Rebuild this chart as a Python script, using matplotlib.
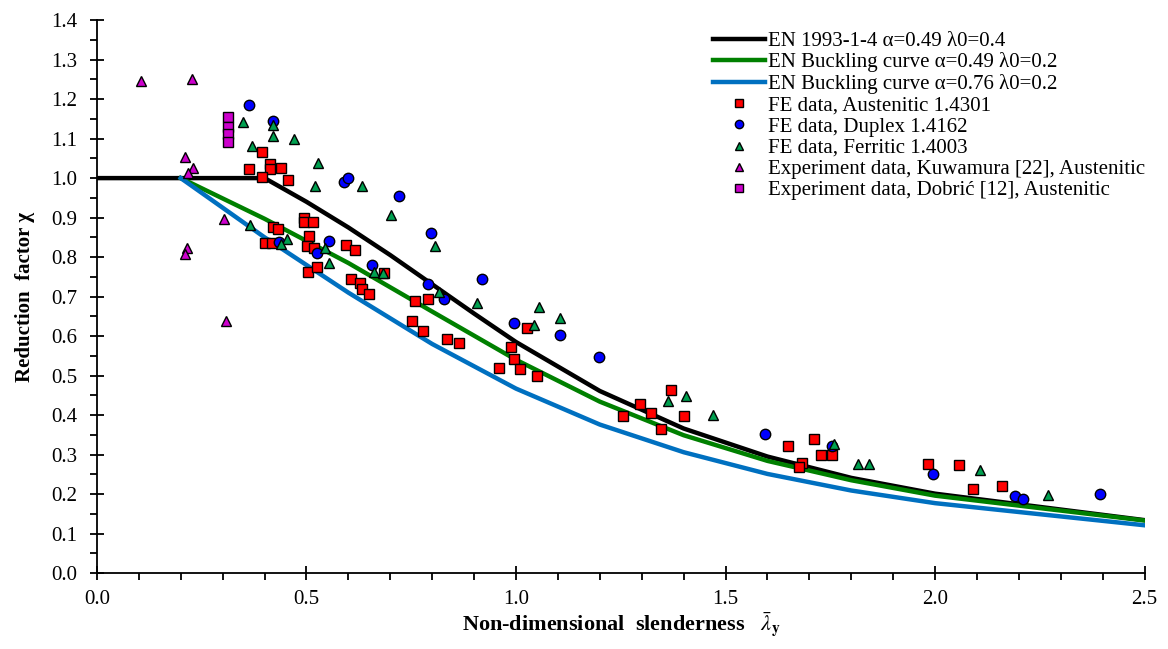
import matplotlib.pyplot as plt
from matplotlib.ticker import MultipleLocator

plt.rcParams['font.family'] = ['Liberation Serif', 'DejaVu Serif']
plt.rcParams['mathtext.fontset'] = 'stix'

# design curves
lam_en14 = [0.0, 0.4, 0.5, 0.6, 0.7, 0.8, 0.9, 1.0, 1.2, 1.4, 1.6, 1.8, 2.0, 2.5]
chi_en14 = [1.0, 1.0, 0.940, 0.875, 0.805, 0.731, 0.657, 0.585, 0.461, 0.366, 0.295, 0.241, 0.201, 0.134]

lam_curve = [0.2, 0.4, 0.6, 0.8, 1.0, 1.2, 1.4, 1.6, 1.8, 2.0, 2.5]
chi_a049 = [1.0, 0.897, 0.785, 0.662, 0.540, 0.434, 0.349, 0.284, 0.235, 0.196, 0.133]
chi_a076 = [1.0, 0.850, 0.710, 0.580, 0.467, 0.376, 0.306, 0.251, 0.209, 0.177, 0.121]

# FE data, Austenitic 1.4301
aus_x = [0.394, 0.412, 0.412, 0.362, 0.44, 0.393, 0.457, 0.493, 0.493, 0.515, 0.42, 0.433,
         0.507, 0.401, 0.417, 0.501, 0.519, 0.595, 0.615, 0.503, 0.525, 0.607, 0.628, 0.633,
         0.649, 0.686, 0.76, 0.79, 0.752, 0.778, 0.835, 0.863, 1.027, 0.989, 0.994, 0.959,
         1.01, 1.051, 1.37, 1.296, 1.323, 1.4, 1.255, 1.347, 1.65, 1.712, 1.728, 1.754,
         1.683, 1.675, 1.983, 2.057, 2.09, 2.16]
aus_y = [1.065, 1.035, 1.023, 1.023, 1.026, 1.003, 0.995, 0.900, 0.888, 0.889, 0.877, 0.871,
         0.854, 0.836, 0.836, 0.828, 0.822, 0.830, 0.819, 0.763, 0.776, 0.744, 0.735, 0.718,
         0.706, 0.759, 0.689, 0.693, 0.639, 0.613, 0.592, 0.582, 0.621, 0.573, 0.542, 0.520,
         0.516, 0.499, 0.463, 0.428, 0.406, 0.397, 0.397, 0.366, 0.322, 0.340, 0.300, 0.300,
         0.279, 0.269, 0.275, 0.273, 0.213, 0.221]

# FE data, Duplex 1.4162
dup_x = [0.362, 0.42, 0.434, 0.525, 0.553, 0.589, 0.599, 0.657, 0.72, 0.79, 0.797, 0.827,
         0.918, 0.994, 1.105, 1.198, 1.595, 1.754, 1.995, 2.19, 2.21, 2.394]
dup_y = [1.185, 1.145, 0.838, 0.811, 0.841, 0.991, 0.999, 0.781, 0.955, 0.732, 0.862, 0.695,
         0.744, 0.634, 0.603, 0.546, 0.353, 0.322, 0.251, 0.195, 0.187, 0.199]

# FE data, Ferritic 1.4003
fer_x = [0.348, 0.42, 0.42, 0.47, 0.369, 0.528, 0.52, 0.632, 0.702, 0.366, 0.453, 0.44,
         0.545, 0.553, 0.66, 0.682, 0.807, 0.817, 0.906, 1.043, 1.056, 1.105, 1.362, 1.405,
         1.471, 1.759, 1.816, 1.842, 2.108, 2.269]
fer_y = [1.143, 1.134, 1.106, 1.099, 1.082, 1.038, 0.980, 0.980, 0.906, 0.881, 0.845, 0.832,
         0.824, 0.784, 0.763, 0.760, 0.829, 0.712, 0.683, 0.628, 0.673, 0.647, 0.435, 0.448,
         0.400, 0.326, 0.276, 0.276, 0.261, 0.197]

# Experiment data, Kuwamura [22]
kuw_x = [0.104, 0.228, 0.211, 0.229, 0.217, 0.302, 0.215, 0.211, 0.307]
kuw_y = [1.246, 1.250, 1.054, 1.025, 1.012, 0.897, 0.824, 0.809, 0.639]

# Experiment data, Dobric [12]
dob_x = [0.312, 0.312, 0.312, 0.312]
dob_y = [1.154, 1.130, 1.111, 1.092]

fig = plt.figure(figsize=(11.68, 6.49), dpi=100)
ax = fig.add_axes([0.083, 0.117, 0.897, 0.852])

ax.plot(lam_en14, chi_en14, color='black', lw=3.2, label='EN 1993-1-4 \u03b1=0.49 \u03bb0=0.4', zorder=2)
ax.plot(lam_curve, chi_a049, color='#008000', lw=3.2, label='EN Buckling curve \u03b1=0.49 \u03bb0=0.2', zorder=2)
ax.plot(lam_curve, chi_a076, color='#0070C0', lw=3.2, label='EN Buckling curve \u03b1=0.76 \u03bb0=0.2', zorder=2)

mk = dict(linestyle='none', markeredgecolor='black', markeredgewidth=1, markersize=7.5, zorder=3)
ax.plot(aus_x, aus_y, marker='s', color='#FF0000', label='FE data, Austenitic 1.4301', **mk)
ax.plot(dup_x, dup_y, marker='o', color='#0000FF', label='FE data, Duplex 1.4162', **mk)
ax.plot(fer_x, fer_y, marker='^', color='#00A050', label='FE data, Ferritic 1.4003', **mk)
ax.plot(kuw_x, kuw_y, marker='^', color='#CC00CC', label='Experiment data, Kuwamura [22], Austenitic', **mk)
ax.plot(dob_x, dob_y, marker='s', color='#CC00CC', label='Experiment data, Dobri\u0107 [12], Austenitic', **mk)

ax.set_xlim(0, 2.5)
ax.set_ylim(0, 1.4)
ax.xaxis.set_major_locator(MultipleLocator(0.5))
ax.xaxis.set_minor_locator(MultipleLocator(0.1))
ax.yaxis.set_major_locator(MultipleLocator(0.1))
ax.yaxis.set_minor_locator(MultipleLocator(0.05))
ax.xaxis.set_major_formatter(lambda v, p: f'{v:.1f}')
ax.yaxis.set_major_formatter(lambda v, p: f'{v:.1f}')
ax.tick_params(which='major', direction='inout', length=10, width=1.3, labelsize=15)
ax.tick_params(which='minor', direction='out', length=5, width=1.3)
ax.tick_params(axis='x', which='major', pad=7)
ax.tick_params(axis='y', which='major', pad=9)
ax.spines['top'].set_visible(False)
ax.spines['right'].set_visible(False)
ax.spines['left'].set_linewidth(1.3)
ax.spines['bottom'].set_linewidth(1.3)

ax.set_xlabel(r'Non-dimensional  slenderness   $\bar{\lambda}_\mathbf{y}$', fontsize=16,
              fontweight='bold', labelpad=1)
ax.set_ylabel('Reduction  factor \u03c7', fontsize=15, fontweight='bold', labelpad=12)

ax.legend(loc='upper left', bbox_to_anchor=(0.58, 0.995), frameon=False, fontsize=15,
          handlelength=2.5, handletextpad=0.15, labelspacing=0.08, borderaxespad=0, markerscale=0.8)

fig.savefig('out.png', dpi=100)
